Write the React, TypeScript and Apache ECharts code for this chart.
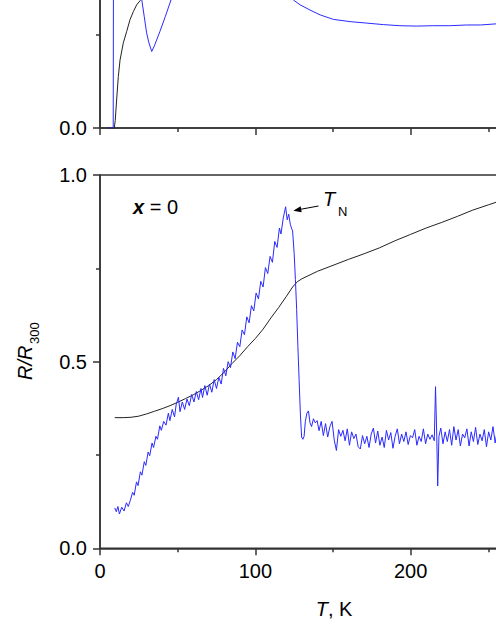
import React, { useEffect, useRef } from "react";
import * as echarts from "echarts";

// Tick values (K and R/R300)
const xTickValues = [0, 100, 200, 300];
const xLabelled = [0, 100, 200];
const yTickValues = [0, 0.5, 1.0];

// Upper panel (partially visible): [T (K), R/R300]
const topBlack: [number, number][] = [
  [5, 0], [9.2, 0], [9.8, 0.02], [10.7, 0.075], [11.8, 0.138], [12.9, 0.182], [15, 0.228],
  [17.2, 0.259], [19.3, 0.29], [21.5, 0.312], [23.6, 0.33], [25.8, 0.341], [28, 0.352],
  [32, 0.365], [40, 0.39], [60, 0.45], [100, 0.55], [150, 0.68], [200, 0.8], [300, 1.0],
];

const topBlue: [number, number][] = [
  [5.6, 0], [8.5, 0], [8.7, 0.5], [9, 0.6], [26, 0.6], [26.3, 0.45], [27, 0.34], [28.5, 0.298],
  [30, 0.255], [31.5, 0.228], [33.3, 0.205], [35, 0.22], [38.6, 0.259], [42, 0.298],
  [45.7, 0.343], [48, 0.37], [52, 0.42], [60, 0.5], [110, 0.5], [118, 0.42], [122, 0.37],
  [124.5, 0.343], [128.8, 0.33], [135.2, 0.316], [141.7, 0.303], [150.2, 0.291], [161, 0.285],
  [171.7, 0.281], [182.4, 0.277], [193, 0.274], [203.9, 0.273], [214.6, 0.274], [225, 0.274],
  [236, 0.276], [245, 0.276], [255, 0.279], [260, 0.279],
];

// Lower panel, x = 0
const bottomBlack: [number, number][] = [
  [9.5, 0.35], [15, 0.35], [20, 0.351], [25, 0.354], [30, 0.36], [35, 0.367], [40, 0.374],
  [45, 0.382], [50, 0.391], [55, 0.401], [60, 0.411], [65, 0.423], [70, 0.436], [75, 0.452],
  [80, 0.472], [85, 0.495], [90, 0.516], [95, 0.54], [100, 0.562], [105, 0.587], [110, 0.617],
  [115, 0.645], [120, 0.675], [124, 0.7], [127, 0.714], [130, 0.722], [140, 0.742],
  [150, 0.758], [160, 0.774], [170, 0.789], [180, 0.805], [190, 0.824], [200, 0.841],
  [210, 0.858], [220, 0.873], [230, 0.889], [240, 0.906], [250, 0.92], [260, 0.934],
  [280, 0.966], [300, 1.0],
];

const bottomBlue: [number, number][] = [
  [9.5, 0.108], [10.5, 0.098], [11.5, 0.112], [12.5, 0.092], [14, 0.11], [15.5, 0.1],
  [17, 0.122], [18.2, 0.112], [19.5, 0.128], [21, 0.15], [22, 0.142], [23.5, 0.178],
  [24.5, 0.168], [26, 0.205], [27, 0.196], [28.5, 0.232], [29.5, 0.222], [31, 0.258],
  [32, 0.248], [33.5, 0.282], [34.5, 0.27], [36, 0.3], [37, 0.292], [38.5, 0.328],
  [39.5, 0.316], [41, 0.34], [42.5, 0.33], [44, 0.362], [45, 0.342], [46.5, 0.372],
  [48, 0.352], [49, 0.384], [50.5, 0.405], [51.5, 0.366], [53, 0.392], [54.5, 0.372],
  [56, 0.4], [57.5, 0.382], [59, 0.412], [60.5, 0.392], [62, 0.42], [63.5, 0.398],
  [65, 0.428], [66, 0.404], [67.5, 0.436], [69, 0.41], [70.5, 0.44], [72, 0.418],
  [73.5, 0.452], [75, 0.428], [76.5, 0.458], [78, 0.44], [79.5, 0.482], [81, 0.462],
  [82.5, 0.5], [84, 0.484], [85.5, 0.526], [87, 0.508], [88.5, 0.552], [90, 0.54],
  [91.5, 0.585], [93, 0.572], [94.5, 0.62], [96, 0.604], [97.5, 0.65], [99, 0.636],
  [100.5, 0.684], [102, 0.668], [103.5, 0.715], [105, 0.7], [106.5, 0.752], [108, 0.736],
  [109.5, 0.782], [111, 0.766], [112.5, 0.822], [114, 0.806], [115.5, 0.858], [116.5, 0.842],
  [118, 0.885], [119.5, 0.915], [120.5, 0.88], [121.5, 0.895], [122.5, 0.868], [123.5, 0.855],
  [124.0, 0.85], [125.0, 0.79], [125.8, 0.72], [126.6, 0.64], [127.4, 0.54], [128.2, 0.45],
  [129.0, 0.36], [129.8, 0.298], [130.6, 0.292], [131.4, 0.3], [132.2, 0.34], [133.2, 0.362],
  [134.2, 0.368], [135.2, 0.336], [136.2, 0.326], [137.4, 0.347], [138.6, 0.336], [139.8, 0.342],
  [141, 0.315], [142.4, 0.34], [143.8, 0.302], [145.2, 0.334], [146.6, 0.298], [148, 0.326],
  [149.4, 0.34], [150.8, 0.29], [152.2, 0.262], [153.6, 0.318], [155, 0.3], [156.4, 0.316],
  [157.8, 0.288], [159.2, 0.32], [160.6, 0.276], [162, 0.312], [163.4, 0.294], [164.8, 0.306],
  [166.2, 0.272], [167.6, 0.266], [169, 0.302], [170.4, 0.28], [171.8, 0.3], [173.2, 0.27],
  [174.6, 0.306], [176, 0.322], [177.4, 0.282], [178.8, 0.314], [180.2, 0.276], [181.6, 0.298],
  [183, 0.27], [184.4, 0.316], [185.8, 0.29], [187.2, 0.31], [188.6, 0.268], [190, 0.3],
  [191.4, 0.32], [192.8, 0.28], [194.2, 0.306], [195.6, 0.286], [197, 0.312], [198.4, 0.278],
  [199.8, 0.302], [201.2, 0.296], [202.6, 0.318], [204, 0.276], [205.4, 0.3], [206.8, 0.286],
  [208.2, 0.32], [209.6, 0.28], [211, 0.306], [212.4, 0.292], [213.8, 0.304], [215.2, 0.288],
  [216, 0.433], [216.8, 0.3], [217.4, 0.167], [218.2, 0.3], [219.4, 0.322], [220.8, 0.28],
  [222.2, 0.312], [223.6, 0.286], [225, 0.318], [226.4, 0.276], [227.8, 0.326], [229.2, 0.29],
  [230.6, 0.318], [232, 0.274], [233.4, 0.306], [234.8, 0.296], [236.2, 0.32], [237.6, 0.274],
  [239, 0.312], [240.4, 0.286], [241.8, 0.324], [243.2, 0.278], [244.6, 0.306], [246, 0.288],
  [247.4, 0.318], [248.8, 0.272], [250.2, 0.312], [251.6, 0.29], [253, 0.326], [254.4, 0.282],
  [255.8, 0.316], [257.2, 0.29], [258.6, 0.304],
];

const FONT = "'Liberation Sans', Arial, Helvetica, sans-serif";
const AXIS_COLOR = "#333";
const BLUE = "#2a2aff";
const BLACK = "#222";

export default function App() {
  const ref = useRef<HTMLDivElement>(null);

  useEffect(() => {
    if (!ref.current) return;
    const chart = echarts.init(ref.current, undefined, { renderer: "svg" });

    const axisLine = { show: true, onZero: false, lineStyle: { color: AXIS_COLOR, width: 1.5 } };
    const tick = { show: true, inside: false, length: 7, lineStyle: { color: AXIS_COLOR, width: 1.5 } };
    const minor = { show: true, splitNumber: 2, length: 4, lineStyle: { color: AXIS_COLOR, width: 1.5 } };
    const labelStyle = { fontSize: 20, fontFamily: FONT, color: "#000", margin: 13 };

    const xBase = (gi: number, showLabel: boolean) => ({
      type: "value",
      gridIndex: gi,
      min: xTickValues[0],
      max: xTickValues[xTickValues.length - 1],
      interval: 100,
      axisLine,
      axisTick: tick,
      minorTick: minor,
      splitLine: { show: false },
      axisLabel: {
        show: showLabel,
        ...labelStyle,
        formatter: (v: number) => (xLabelled.includes(v) ? String(v) : ""),
      },
    });
    const yBase = (gi: number, labelled: number[]) => ({
      type: "value",
      gridIndex: gi,
      min: yTickValues[0],
      max: yTickValues[yTickValues.length - 1],
      interval: 0.5,
      axisLine,
      axisTick: tick,
      minorTick: minor,
      splitLine: { show: false },
      axisLabel: {
        show: true,
        ...labelStyle,
        formatter: (v: number) => (labelled.includes(v) ? v.toFixed(1) : ""),
      },
    });

    const gridBase = {
      left: 100,
      width: 466,
      height: 373.3,
      show: true,
      borderColor: AXIS_COLOR,
      borderWidth: 1.5,
      backgroundColor: "transparent",
      containLabel: false,
      outerBoundsMode: "none",
    };

    const lineSeries = (data: [number, number][], color: string, gi: number) => ({
      type: "line",
      xAxisIndex: gi,
      yAxisIndex: gi,
      data,
      showSymbol: false,
      symbol: "none",
      lineStyle: { color, width: 1 },
      silent: true,
    });

    chart.setOption({
      animation: false,
      textStyle: { fontFamily: FONT },
      grid: [
        { ...gridBase, top: 128 - 373.3 },
        { ...gridBase, top: 175 },
      ],
      xAxis: [xBase(0, false), xBase(1, true)],
      yAxis: [yBase(0, [0]), yBase(1, yTickValues)],
      series: [
        lineSeries(topBlack, BLACK, 0),
        lineSeries(topBlue, BLUE, 0),
        lineSeries(bottomBlack, BLACK, 1),
        lineSeries(bottomBlue, BLUE, 1),
      ],
      graphic: [
        {
          type: "text",
          x: 334,
          y: 609,
          style: {
            text: "{i|T}{n|, K}",
            align: "center",
            verticalAlign: "middle",
            fill: "#000",
            fontSize: 20,
            fontFamily: FONT,
            rich: {
              i: { fontStyle: "italic", fontSize: 20, fontFamily: FONT, fill: "#000" },
              n: { fontSize: 20, fontFamily: FONT, fill: "#000" },
            },
          },
        },
        {
          type: "group",
          x: 24.5,
          y: 380,
          rotation: Math.PI / 2,
          children: [
            {
              type: "text",
              x: 0,
              y: 0,
              style: {
                text: "R/R",
                fontStyle: "italic",
                fontSize: 20,
                fontFamily: FONT,
                fill: "#000",
                align: "left",
                verticalAlign: "middle",
              },
            },
            {
              type: "text",
              x: 36,
              y: 10,
              style: {
                text: "300",
                fontSize: 13,
                fontFamily: FONT,
                fill: "#000",
                align: "left",
                verticalAlign: "middle",
              },
            },
          ],
        },
        {
          type: "text",
          x: 133,
          y: 207,
          style: {
            text: "{b|x}{n| = 0}",
            align: "left",
            verticalAlign: "middle",
            fill: "#000",
            fontSize: 20,
            fontFamily: FONT,
            rich: {
              b: { fontStyle: "italic", fontWeight: "bold", fontSize: 20, fontFamily: FONT, fill: "#000" },
              n: { fontSize: 20, fontFamily: FONT, fill: "#000" },
            },
          },
        },
        {
          type: "text",
          x: 323,
          y: 199,
          style: {
            text: "T",
            fontStyle: "italic",
            fontSize: 20,
            fontFamily: FONT,
            fill: "#000",
            align: "left",
            verticalAlign: "middle",
          },
        },
        {
          type: "text",
          x: 338,
          y: 211,
          style: {
            text: "N",
            fontSize: 13,
            fontFamily: FONT,
            fill: "#000",
            align: "left",
            verticalAlign: "middle",
          },
        },
        {
          type: "line",
          shape: { x1: 318.5, y1: 206, x2: 300, y2: 209.4 },
          style: { stroke: "#000", lineWidth: 1 },
        },
        {
          type: "polygon",
          shape: { points: [[293.3, 210.7], [301.7, 212.3], [300.6, 206.2]] },
          style: { fill: "#000" },
        },
      ],
    });

    return () => chart.dispose();
  }, []);

  return (
    <div
      ref={ref}
      style={{ position: "absolute", left: 0, top: 0, width: 496, height: 642 }}
    />
  );
}
